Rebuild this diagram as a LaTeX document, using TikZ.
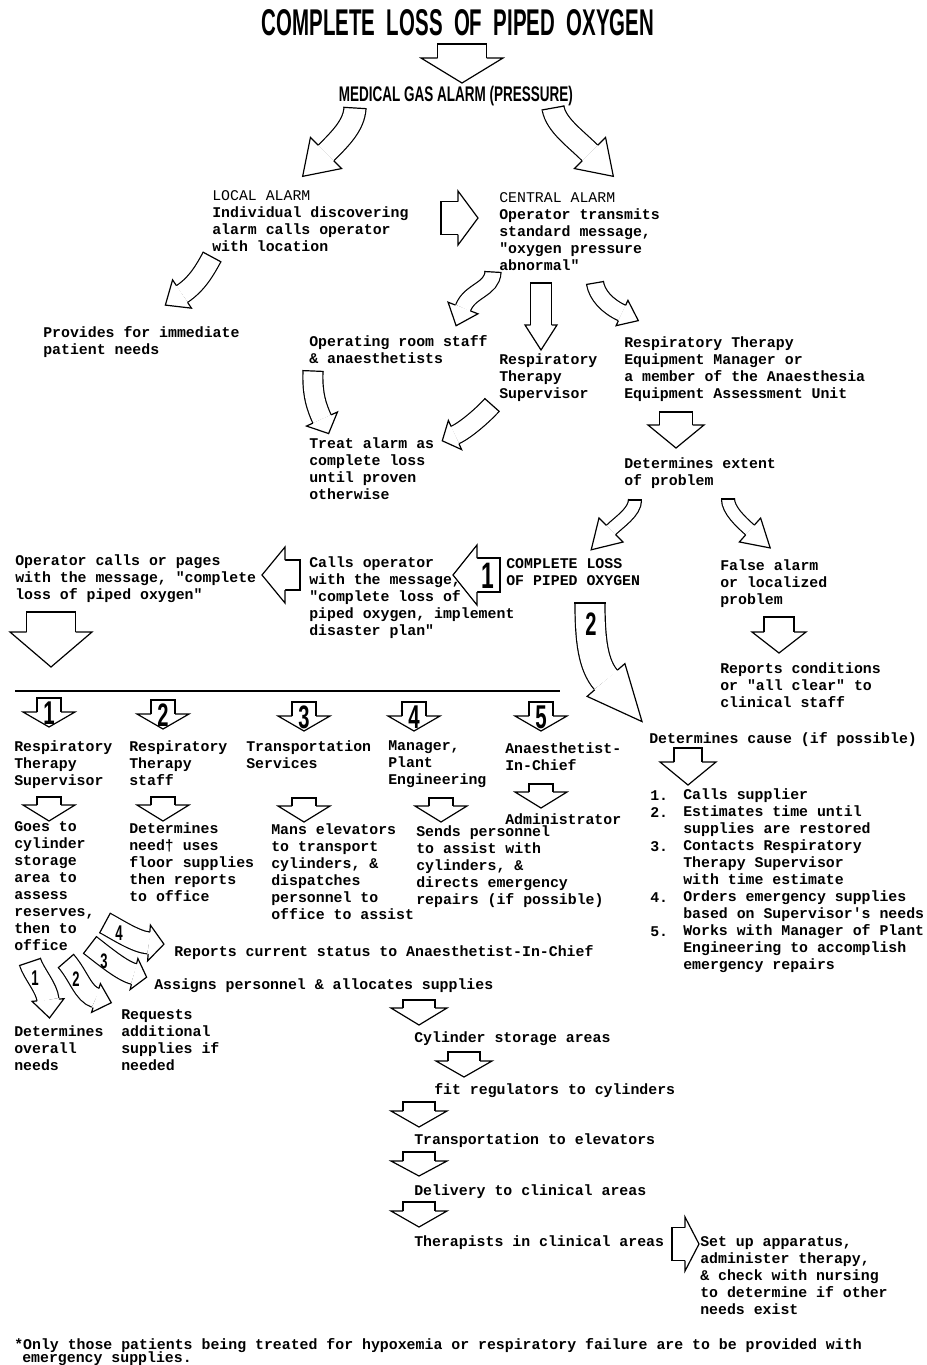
\documentclass[tikz,border=0pt]{standalone}
\usepackage{fontspec}
\usepackage{graphicx}
\usetikzlibrary{calc}
\newfontfamily\monofam{Liberation Mono}
\newfontfamily\sansfam{Liberation Sans}
\newcommand\tfont{\monofam\bfseries\fontsize{11.15}{12.75}\selectfont}
\newcommand\dig[2]{\scalebox{0.62}[1]{\resizebox{!}{#1}{\sansfam\bfseries #2}}}
% block arrow: S, C1, C2, E, shaft width, head half width, head length (px)
\newcommand\barrow[7]{%
  \pgfmathsetmacro\bw{0.375*#5}%
  \pgfmathsetmacro\bdd{0.75*#5-0.9}%
  \pgfmathsetmacro\bh{0.75*#6}%
  \pgfmathsetmacro\bl{0.75*#7}%
  \draw[line width=0.9pt,double=white,double distance=\bdd pt] (#1) .. controls (#2) and (#3) .. (#4);
  \draw[line width=0.9pt,line cap=rect] ($(#1)!\bw pt!90:(#2)$) -- ($(#1)!\bw pt!-90:(#2)$);
  \draw[line width=0.9pt,fill=white,line join=miter] ($(#4)!\bw pt!90:(#3)$) -- ($(#4)!\bh pt!90:(#3)$) -- ($(#4)!-\bl pt!(#3)$) -- ($(#4)!\bh pt!-90:(#3)$) -- ($(#4)!\bw pt!-90:(#3)$);
}
\begin{document}
\begin{tikzpicture}[x=0.75pt,y=-0.75pt,
  txt/.style={anchor=north west,inner sep=0pt,align=left,font=\tfont,execute at begin node=\strut,yshift=5.7pt},
  digit/.style={inner sep=0pt}]
\useasboundingbox (0,0) rectangle (927,1365);

% titles
\node[inner sep=0pt] (title) at (458,23) {\resizebox{294pt}{19.5pt}{\sansfam\bfseries COMPLETE\ \ LOSS\ \ OF\ \ PIPED\ \ OXYGEN}};
\barrow{462,44}{462,49}{462,54}{462,58}{49}{41}{25}
\node[inner sep=0pt] (mga) at (456,96) {\resizebox{175.5pt}{11.5pt}{\sansfam\bfseries MEDICAL\ GAS\ ALARM\ (PRESSURE)}};

\barrow{355,108}{354,125}{341,138}{326,153}{22}{22}{33}
\barrow{553,108}{556,125}{575,138}{590,153}{22}{22}{33}

\node[txt] (local) at (212,198) {{\mdseries LOCAL ALARM}\\Individual discovering\\alarm calls operator\\with location};
\node[txt] (central) at (499,200) {{\mdseries CENTRAL ALARM}\\Operator transmits\\standard message,\\"oxygen pressure\\abnormal"};
\barrow{441,218}{447,218}{452,218}{458,218}{33}{27}{20}

\barrow{212,257}{205,270}{197,284}{182,294}{20}{17}{20}
\node[txt] (prov) at (43,334) {Provides for immediate\\patient needs};

\barrow{493,272}{492,290}{470,290}{463,308}{16}{16}{19}
\barrow{541,283}{541,300}{541,315}{541,325}{21}{16}{25}
\barrow{595,283}{597,295}{607,306}{622,313}{17}{14}{18}

\node[txt] (orstaff) at (309,343) {Operating room staff\\\& anaesthetists};
\node[txt] (rts) at (499,361) {Respiratory\\Therapy\\Supervisor};
\node[txt] (equip) at (624,344) {Respiratory Therapy\\Equipment Manager or\\a member of the Anaesthesia\\Equipment Assessment Unit};

\barrow{313,371}{312,395}{317,408}{322,419}{20}{17}{16}
\barrow{492,405}{484,414}{466,430}{455,435}{19}{16}{14}
\node[txt] (treat) at (309,445) {Treat alarm as\\complete loss\\until proven\\otherwise};

\barrow{676,412}{676,416}{676,421}{676,425}{33}{28}{23}
\node[txt] (extent) at (624,465) {Determines extent\\of problem};

\barrow{635,500}{635,512}{619,522}{611,530}{13}{17}{28}
\barrow{728,499}{728,510}{741,522}{750,530}{13}{16}{27}

\node[txt] (opcalls) at (15,562) {Operator calls or pages\\with the message, "complete\\loss of piped oxygen"};
\barrow{300,575}{295,575}{290,575}{285,575}{30}{28}{23}
\node[txt] (callsop) at (309,564) {Calls operator\\with the message,\\"complete loss of\\piped oxygen, implement\\disaster plan"};
\barrow{500,575}{493,575}{485,575}{477,575}{34}{30}{24}
\node[digit] (n1a) at (488,576) {\dig{19pt}{1}};
\node[txt] (closs) at (506,566) {COMPLETE LOSS\\OF PIPED OXYGEN};
\node[txt] (false) at (720,567) {False alarm\\or localized\\problem};

\barrow{590,603}{590,640}{593,665}{606,680}{30}{25}{55}
\node[digit] (n2a) at (591,624) {\dig{17pt}{2}};

\barrow{779,617}{779,622}{779,627}{779,632}{30}{27}{21}
\node[txt] (reports) at (720,670) {Reports conditions\\or "all clear" to\\clinical staff};

\barrow{51,612}{51,618}{51,626}{51,632}{49}{41}{35}
\coordinate (rulea) at (15,691);
\coordinate (ruleb) at (560,691);
\draw[line width=1.4pt] (rulea) -- (ruleb);

% numbered row
\foreach \c/\t/\n in {49/698/1,163/700/2,304/702/3,414/702/4,541/702/5}{
  \pgfmathsetmacro\ta{\t+4}\pgfmathsetmacro\tb{\t+9}\pgfmathsetmacro\tc{\t+14}
  \barrow{\c,\t}{\c,\ta}{\c,\tb}{\c,\tc}{24}{26}{15}
  \node[digit] (r\n) at (\c,\t+15) {\dig{17pt}{\n}};
}
\node[txt] (h1) at (14,748) {Respiratory\\Therapy\\Supervisor};
\node[txt] (h2) at (129,748) {Respiratory\\Therapy\\staff};
\node[txt] (h3) at (246,748) {Transportation\\Services};
\node[txt] (h4) at (388,748) {Manager,\\Plant\\Engineering};
\node[txt] (h5) at (505,750) {Anaesthetist-\\In-Chief};

\foreach \c/\t in {49/797,163/797,304/798,441/798,541/784}{
  \pgfmathsetmacro\ta{\t+3}\pgfmathsetmacro\tb{\t+5}\pgfmathsetmacro\tc{\t+8}
  \barrow{\c,\t}{\c,\ta}{\c,\tb}{\c,\tc}{24}{26}{16}
}
\node[txt] (admin) at (505,820) {Administrator};
\node[txt] (t1) at (14,829) {Goes to\\cylinder\\storage\\area to\\assess\\reserves,\\then to\\office};
\node[txt] (t2) at (129,830) {Determines\\need† uses\\floor supplies\\then reports\\to office};
\node[txt] (t3) at (271,831) {Mans elevators\\to transport\\cylinders, \&\\dispatches\\personnel to\\office to assist};
\node[txt] (t4) at (416,833) {Sends personnel\\to assist with\\cylinders, \&\\directs emergency\\repairs (if possible)};

% cause list
\node[txt] (cause) at (649,739) {Determines cause (if possible)};
\barrow{688,748}{688,752}{688,757}{688,762}{28}{28}{23}
\foreach \n/\y in {1/796,2/813,3/847,4/898,5/932}{
  \node[txt] (num\n) at (650,\y) {\n.};
}
\node[txt] (list) at (683,796) {Calls supplier\\Estimates time until\\supplies are restored\\Contacts Respiratory\\Therapy Supervisor\\with time estimate\\Orders emergency supplies\\based on Supervisor's needs\\Works with Manager of Plant\\Engineering to accomplish\\emergency repairs};

% small curved arrows
\barrow{105,923}{118,930}{136,942}{149,943}{22}{18}{15}
\node[digit] (s4) at (119,933) {\dig{11pt}{4}};
\barrow{90,945}{103,955}{122,971}{134,974}{21}{16}{13}
\node[digit] (s3) at (104,961) {\dig{11pt}{3}};
\barrow{66,961}{79,976}{83,994}{96,998}{20}{15}{16}
\node[digit] (s2) at (76,979) {\dig{11pt}{2}};
\barrow{30,962}{34,974}{47,988}{48,1000}{22}{16}{18}
\node[digit] (s1) at (35,978) {\dig{11pt}{1}};

\node[txt] (curstat) at (174,952) {Reports current status to Anaesthetist-In-Chief};
\node[txt] (assign) at (154,985) {Assigns personnel \& allocates supplies};
\node[txt] (overall) at (14,1033) {Determines\\overall\\needs};
\node[txt] (request) at (121,1017) {Requests\\additional\\supplies if\\needed};

% chain
\barrow{419,1000}{419,1003}{419,1005}{419,1008}{32}{28}{17}
\node[txt] (cyl) at (414,1038) {Cylinder storage areas};
\barrow{464,1052}{464,1055}{464,1058}{464,1061}{32}{28}{16}
\node[txt] (fit) at (434,1090) {fit regulators to cylinders};
\barrow{419,1102}{419,1105}{419,1108}{419,1111}{32}{28}{16}
\node[txt] (trans) at (414,1140) {Transportation to elevators};
\barrow{419,1152}{419,1155}{419,1158}{419,1161}{32}{28}{15}
\node[txt] (deliv) at (414,1191) {Delivery to clinical areas};
\barrow{419,1202}{419,1205}{419,1208}{419,1211}{32}{28}{16}
\node[txt] (ther) at (414,1242) {Therapists in clinical areas};
\barrow{672,1244}{676,1244}{680,1244}{685,1244}{33}{27}{14}
\node[txt] (setup) at (700,1244) {Set up apparatus,\\administer therapy,\\\& check with nursing\\to determine if other\\needs exist};

\node[txt] (foot1) at (14,1345) {*Only those patients being treated for hypoxemia or respiratory failure are to be provided with};
\node[txt] (foot2) at (22,1358) {emergency supplies.};
\end{tikzpicture}
\end{document}
